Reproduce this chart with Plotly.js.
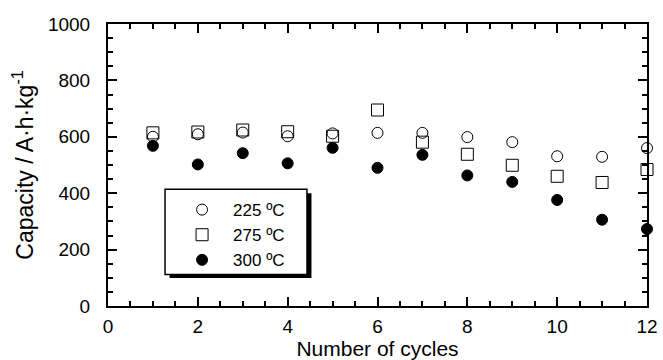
<!DOCTYPE html>
<html>
<head>
<meta charset="utf-8">
<script src="https://cdn.plot.ly/plotly-3.0.1.min.js"></script>
<style>html,body{margin:0;padding:0;background:#fff;}</style>
</head>
<body>
<div id="chart" style="width:663px;height:360px;"></div>
<script>
const cycles = [1,2,3,4,5,6,7,8,9,10,11,12];
const cap225 = [600,609,615,602,612,614,614,599,581,531,529,560];
const cap275 = [614,617,624,618,602,695,581,538,499,460,438,484];
const cap300 = [568,502,542,506,561,490,536,463,440,376,306,273];
const seriesNames = ['225 ºC','275 ºC','300 ºC'];

const FONT = 'Liberation Sans, Arial, sans-serif';
const traces = [
  {x: cycles, y: cap225, name: seriesNames[0], mode: 'markers', type: 'scatter', cliponaxis: false,
   marker: {symbol: 'circle-open', size: 11, color: '#000', line: {width: 1, color: '#000'}}},
  {x: cycles, y: cap275, name: seriesNames[1], mode: 'markers', type: 'scatter', cliponaxis: false,
   marker: {symbol: 'square-open', size: 12, color: '#000', line: {width: 1, color: '#000'}}},
  {x: cycles, y: cap300, name: seriesNames[2], mode: 'markers', type: 'scatter', cliponaxis: false,
   marker: {symbol: 'circle', size: 11, color: '#000', line: {width: 1, color: '#000'}}}
];

const axisCommon = {
  showgrid: false, zeroline: false, showline: true, linecolor: '#000', linewidth: 2,
  mirror: 'allticks', ticks: 'inside', tickcolor: '#000', tickwidth: 2, ticklen: 9,
  tickfont: {family: FONT, size: 19, color: '#000'}
};

const layout = {
  width: 663, height: 360,
  margin: {l: 108, r: 16, t: 24, b: 54},
  paper_bgcolor: '#fff', plot_bgcolor: '#fff',
  font: {family: FONT, color: '#000'},
  xaxis: Object.assign({}, axisCommon, {
    range: [0, 12], dtick: 2, tick0: 0, ticklabelstandoff: 2,
    minor: {dtick: 0.5, ticks: 'inside', ticklen: 5, tickwidth: 2, tickcolor: '#000'},
    title: {text: 'Number of cycles', font: {family: FONT, size: 21, color: '#000'}, standoff: 6}
  }),
  yaxis: Object.assign({}, axisCommon, {
    range: [0, 1000], dtick: 200, tick0: 0, ticklabelstandoff: 12,
    minor: {dtick: 50, ticks: 'inside', ticklen: 5, tickwidth: 2, tickcolor: '#000'},
    title: {text: 'Capacity / A·h·kg<sup>-1</sup>', font: {family: FONT, size: 23, color: '#000'}, standoff: 8}
  }),
  showlegend: true,
  legend: {
    x: 0.117, y: 0.404, xanchor: 'left', yanchor: 'top',
    bgcolor: 'rgba(0,0,0,0)', borderwidth: 0,
    font: {family: FONT, size: 17, color: '#000'},
    itemwidth: 52, tracegroupgap: 0
  },
  shapes: [
    {type: 'rect', xref: 'x', yref: 'y', x0: 1.37, x1: 4.53, y0: 99, y1: 400,
     fillcolor: '#000', line: {width: 0}, layer: 'above'},
    {type: 'rect', xref: 'x', yref: 'y', x0: 1.27, x1: 4.43, y0: 112, y1: 414,
     fillcolor: '#fff', line: {width: 1.5, color: '#000'}, layer: 'above'}
  ]
};

Plotly.newPlot('chart', traces, layout, {displayModeBar: false, staticPlot: true});
</script>
</body>
</html>
